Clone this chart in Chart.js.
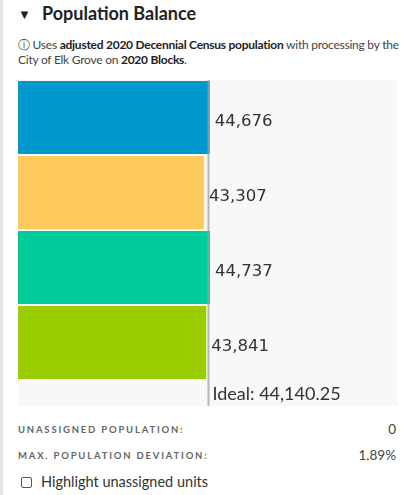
<!DOCTYPE html>
<html>
<head>
<meta charset="utf-8">
<script src="https://cdn.jsdelivr.net/npm/chart.js@4"></script>
<style>
  html, body { margin: 0; padding: 0; background: #fff; }
  body { width: 419px; height: 495px; position: relative; overflow: hidden; font-family: "Lato", "Noto Sans", sans-serif; color: #333; }
  .edge { position: absolute; left: 0; top: 0; width: 3px; height: 495px; background: #e6e6e6; }
  .title { position: absolute; left: 18px; top: 2px; font-size: 18px; font-weight: 700; color: #222; white-space: nowrap; }
  .title .caret { display: inline-block; width: 24px; font-size: 13px; vertical-align: 1px; }
  .info { position: absolute; left: 18px; top: 37px; width: 396px; font-size: 12px; letter-spacing: -0.25px; line-height: 15px; color: #444; }
  .info b { color: #222; }
  #wrap { position: absolute; left: 18px; top: 80px; width: 379px; height: 326px; background: #f8f8f8; }
  .row { position: absolute; left: 18px; width: 378px; font-size: 9.5px; font-weight: 700; letter-spacing: 1.8px; color: #666; }
  .row span { position: absolute; right: 0; top: -3px; font-size: 13.5px; font-weight: 400; letter-spacing: 0; color: #444; }
  .check { position: absolute; left: 21px; top: 473px; font-size: 14.5px; color: #333; white-space: nowrap; }
  .check i { display: inline-block; width: 9px; height: 9px; border: 1px solid #555; border-radius: 2px; margin-right: 9px; vertical-align: -1px; }
</style>
</head>
<body>
<div class="edge"></div>
<div class="title"><span class="caret">&#9660;</span>Population Balance</div>
<div class="info">&#9432; Uses <b>adjusted 2020 Decennial Census population</b> with processing by the City of Elk Grove on <b>2020 Blocks</b>.</div>
<div id="wrap"><canvas id="chart"></canvas></div>
<div class="row" style="top:424px">UNASSIGNED POPULATION:<span>0</span></div>
<div class="row" style="top:450px">MAX. POPULATION DEVIATION:<span>1.89%</span></div>
<div class="check"><i></i>Highlight unassigned units</div>

<script>
// district populations
const districts = ['1', '2', '3', '4'];
const populations = [44676, 43307, 44737, 43841];
const idealPopulation = 44140.25;
const districtColors = ['#0099cd', '#ffca5d', '#00cd99', '#99cd00'];

const fmt = n => n.toLocaleString('en-US');

// value labels next to each bar, plus the ideal line
const balancePlugin = {
    id: 'balance',
    afterDatasetsDraw(chart) {
        const ctx = chart.ctx;
        const xScale = chart.scales.x;
        ctx.save();
        ctx.font = '16.5px "DejaVu Sans"';
        ctx.fillStyle = '#333';
        ctx.textBaseline = 'middle';
        chart.getDatasetMeta(0).data.forEach((bar, i) => {
            ctx.fillText(fmt(populations[i]), bar.x + 5, bar.y + 4);
        });

        const lx = Math.round(xScale.getPixelForValue(idealPopulation)) + 0.5;
        ctx.strokeStyle = 'rgba(160,160,160,0.75)';
        ctx.lineWidth = 2;
        ctx.beginPath();
        ctx.moveTo(lx, 0);
        ctx.lineTo(lx, chart.height);
        ctx.stroke();

        ctx.font = '18px Lato';
        ctx.textBaseline = 'alphabetic';
        ctx.fillText('Ideal: ' + idealPopulation.toLocaleString('en-US', { minimumFractionDigits: 2 }), lx + 4, chart.chartArea.bottom + 20);
        ctx.restore();
    }
};

new Chart(document.getElementById('chart'), {
    type: 'bar',
    data: {
        labels: districts,
        datasets: [{
            data: populations,
            backgroundColor: districtColors,
            borderWidth: 0,
            barPercentage: 1,
            categoryPercentage: 73 / 75
        }]
    },
    options: {
        indexAxis: 'y',
        responsive: true,
        maintainAspectRatio: false,
        animation: false,
        layout: { padding: { top: 0, left: 0, right: 0, bottom: 26 } },
        scales: {
            x: { display: false, min: 0, max: idealPopulation * 2 },
            y: { display: false }
        },
        plugins: {
            legend: { display: false },
            tooltip: { enabled: false }
        }
    },
    plugins: [balancePlugin]
});
</script>
</body>
</html>
